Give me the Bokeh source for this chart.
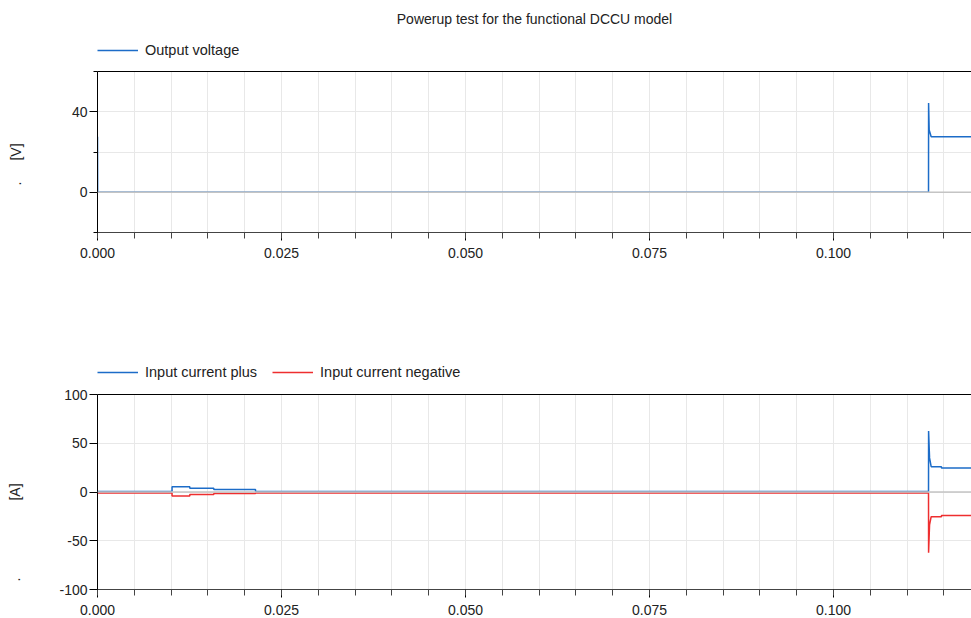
import numpy as np
from bokeh.plotting import figure
from bokeh.layouts import column
from bokeh.models import (Range1d, FixedTicker, LinearAxis, Legend, LegendItem, Label,
                          Span, PrintfTickFormatter)
from bokeh.embed import file_html
from bokeh.resources import INLINE

# ---------------- data ----------------
title_text = "Powerup test for the functional DCCU model"

# Output voltage [V]
t_v = [0.0, 0.00002, 0.11291, 0.11292, 0.11300, 0.11327, 0.11875]
v_out = [27.6, 0.0, 0.0, 44.4, 31.0, 27.6, 27.6]

# Input currents [A]
t_i = [0.0, 0.01013, 0.01013, 0.01254, 0.01254, 0.0158, 0.0158, 0.02147, 0.02147,
       0.11291, 0.11292, 0.11305, 0.11327, 0.11467, 0.11467, 0.11875]
i_plus = [0.6, 0.6, 5.4, 5.4, 3.8, 3.8, 2.6, 2.6, 0.6,
          0.6, 62.6, 35.0, 26.0, 26.0, 24.6, 24.6]
i_neg = [-0.9, -0.9, -4.1, -4.1, -2.5, -2.5, -1.5, -1.5, -0.9,
         -0.9, -62.2, -33.8, -25.3, -25.3, -24.0, -24.0]

x_major = [0.0, 0.025, 0.05, 0.075, 0.1]
x_minor = [round(0.005 * k, 3) for k in range(0, 25)]
v_major = [0, 40]
v_minor = [-20, 20, 60]
i_major = [-100, -50, 0, 50, 100]

names_top = ["Output voltage"]
names_bot = ["Input current plus", "Input current negative"]
EM, EN, NB = "\u2003", "\u2002", "\u00a0"
units_top = "." + EM + EN + "[V]" + EM + EN + NB
units_bot = "." + EM * 5 + EN + "[A]" + EM * 5 + EN + NB

BLUE = "#1c6cc8"
RED = "#ee2e2f"
FONT = "Liberation Sans"
GRID = "#e8e8e8"
TXT = "#222222"

X_END = 0.11875
W = 971


def make_fig(height, top, bottom, yr, yticks, yminor, ylabel, ylabel_standoff):
    p = figure(width=W, height=height, output_backend="svg", toolbar_location=None,
               x_range=Range1d(0, X_END), y_range=Range1d(*yr),
               min_border_left=97, min_border_right=0,
               min_border_top=top, min_border_bottom=bottom)
    p.outline_line_color = None
    p.background_fill_color = "white"
    p.border_fill_color = "white"

    xa = p.xaxis[0]
    xa.ticker = FixedTicker(ticks=x_major, minor_ticks=x_minor)
    xa.formatter = PrintfTickFormatter(format="%.3f")
    xa.axis_line_color = "#444444"
    xa.major_tick_line_color = "black"
    xa.minor_tick_line_color = "#444444"
    xa.major_tick_out = 8
    xa.major_tick_in = 0
    xa.minor_tick_out = 6
    xa.minor_tick_in = 0
    xa.major_label_standoff = 7
    xa.major_label_text_font = FONT
    xa.major_label_text_font_size = "14px"
    xa.major_label_text_color = TXT

    ya = p.yaxis[0]
    ya.ticker = FixedTicker(ticks=yticks, minor_ticks=yminor)
    ya.formatter = PrintfTickFormatter(format="%d")
    ya.axis_line_color = "black"
    ya.major_tick_line_color = "black"
    ya.minor_tick_line_color = "black"
    ya.major_tick_out = 8
    ya.major_tick_in = 0
    ya.minor_tick_out = 4
    ya.minor_tick_in = 0
    ya.major_label_standoff = 2
    ya.major_label_text_font = FONT
    ya.major_label_text_font_size = "14px"
    ya.major_label_text_color = TXT
    ya.axis_label = ylabel
    ya.axis_label_standoff = ylabel_standoff
    ya.axis_label_text_font = FONT
    ya.axis_label_text_font_size = "14px"
    ya.axis_label_text_font_style = "normal"
    ya.axis_label_text_color = TXT

    p.xgrid.grid_line_color = GRID
    p.xgrid.minor_grid_line_color = GRID
    p.ygrid.grid_line_color = GRID
    p.ygrid.minor_grid_line_color = GRID

    top_axis = LinearAxis(ticker=FixedTicker(ticks=[]), axis_line_color="black",
                          major_tick_line_color=None, minor_tick_line_color=None,
                          major_tick_out=0, minor_tick_out=0, major_label_standoff=0)
    p.add_layout(top_axis, "above")

    p.add_layout(Span(location=0, dimension="width", line_color="#c4c4c4", line_width=1.5))
    return p


def header(height):
    # a strip whose frame lines up with the plots; its ranges keep the sample lines out of view
    h = figure(width=W, height=height, output_backend="svg", toolbar_location=None,
               x_range=Range1d(10, 11), y_range=Range1d(1000, 1001),
               x_axis_location=None, y_axis_location=None, min_border=0)
    h.outline_line_color = None
    h.grid.visible = False
    h.background_fill_color = "white"
    h.border_fill_color = "white"
    return h


def legend(items, loc):
    return Legend(items=items, location=loc, orientation="horizontal",
                  padding=0, margin=0, glyph_width=41, glyph_height=14,
                  label_height=14, label_standoff=7, spacing=15,
                  background_fill_alpha=0, border_line_color=None,
                  label_text_font=FONT, label_text_font_size="14.5px",
                  label_text_color=TXT)


# ---------------- header 1: title + legend ----------------
h1 = header(60)
s_v = h1.line(t_v, v_out, line_color=BLUE, line_width=1.5)
h1.add_layout(legend([LegendItem(label=names_top[0], renderers=[s_v])], (0, 2)), "center")
h1.add_layout(Label(x=437, y=42, x_units="screen", y_units="screen", text=title_text,
                    text_align="center", text_baseline="middle", text_font=FONT,
                    text_font_size="14px", text_color=TXT))

# ---------------- top plot ----------------
p1 = make_fig(240, 11, 68, (-20, 60), v_major, v_minor, units_top, 45)
p1.line(t_v, v_out, line_color=BLUE, line_width=1.5)

# ---------------- header 2: legend ----------------
h2 = header(83)
s_p = h2.line(t_i, i_plus, line_color=BLUE, line_width=1.5)
s_n = h2.line(t_i, i_neg, line_color=RED, line_width=1.5)
h2.add_layout(legend([LegendItem(label=names_bot[0], renderers=[s_p]),
                      LegendItem(label=names_bot[1], renderers=[s_n])], (0, 3)), "center")

# ---------------- bottom plot ----------------
p2 = make_fig(235, 11, 29, (-100, 100), i_major, [], units_bot, 33)
p2.yaxis[0].minor_tick_line_color = None
p2.line(t_i, i_plus, line_color=BLUE, line_width=1.5)
p2.line(t_i, i_neg, line_color=RED, line_width=1.5)

layout = column(h1, p1, h2, p2, spacing=0)

open("out.html", "w").write(file_html(layout, INLINE))
